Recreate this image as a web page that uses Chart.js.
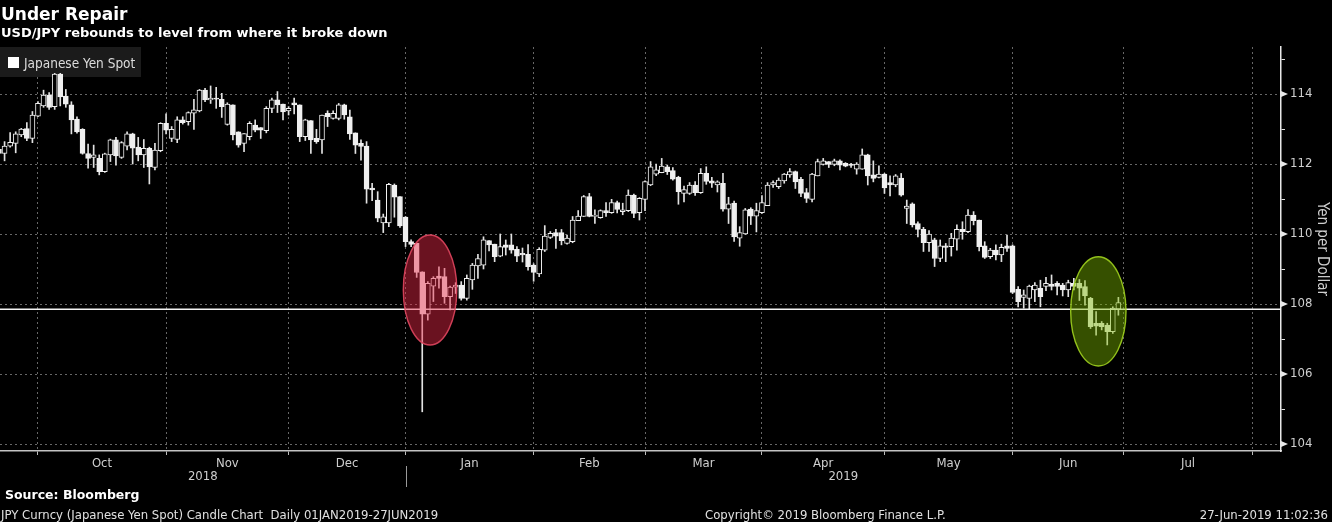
<!DOCTYPE html>
<html>
<head>
<meta charset="utf-8">
<script src="https://cdn.jsdelivr.net/npm/chart.js@4.4.1/dist/chart.umd.min.js"></script>
<style>
  html, body { margin:0; padding:0; background:#000; }
  #wrap { position:relative; width:1332px; height:522px; background:#000; overflow:hidden; }
  #c { position:absolute; left:0; top:0; }
  .txt { position:absolute; white-space:nowrap; line-height:1; }
  #title { left:1px; top:6px; font-weight:bold; font-size:17px; font-family:"DejaVu Sans", sans-serif; color:#fff; }
  #subtitle { left:1px; top:26px; font-weight:bold; font-size:13px; font-family:"DejaVu Sans", sans-serif; color:#fff; }
  #legendSq { position:absolute; left:8px; top:57px; width:11px; height:11px; background:#fff; }
  #legendTxt { left:24px; top:57px; font-size:13.5px; font-family:"DejaVu Sans Condensed","Liberation Sans Narrow","DejaVu Sans",sans-serif; color:#dcdcdc; }
  #source { left:5px; top:489px; font-weight:bold; font-size:12.5px; font-family:"DejaVu Sans", sans-serif; color:#fff; }
  .foot { top:508px; font-size:13px; font-family:"DejaVu Sans Condensed","Liberation Sans Narrow","DejaVu Sans",sans-serif; color:#e0e0e0; }
  #desc { left:1px; }
  #copy { left:705px; }
  #stamp { right:4px; }
</style>
</head>
<body>
<div id="wrap">
  <canvas id="c" width="1332" height="522"></canvas>
  <div class="txt" id="title">Under Repair</div>
  <div class="txt" id="subtitle">USD/JPY rebounds to level from where it broke down</div>
  <div id="legendSq"></div>
  <div class="txt" id="legendTxt">Japanese Yen Spot</div>
  <div class="txt" id="source">Source: Bloomberg</div>
  <div class="txt foot" id="desc">JPY Curncy (Japanese Yen Spot) Candle Chart&nbsp; Daily 01JAN2019-27JUN2019</div>
  <div class="txt foot" id="copy">Copyright© 2019 Bloomberg Finance L.P.</div>
  <div class="txt foot" id="stamp">27-Jun-2019 11:02:36</div>
</div>
<script>
// ---- data (one candle per weekday slot; slot 0 = first trading slot of October 2018) ----
const firstSlot = -7;
const openV = [
112.42,112.30,112.51,112.59,112.83,113.01,112.73,113.37,113.66,113.97,
113.64,114.57,113.94,113.69,113.28,112.99,112.30,112.19,112.16,111.78,
112.26,112.69,112.19,112.51,112.86,112.48,112.26,112.45,111.90,112.38,
113.16,112.73,112.70,113.26,113.21,113.45,113.52,114.11,113.83,113.88,
113.85,113.13,113.69,112.92,112.59,112.78,113.11,113.04,112.95,113.59,
113.83,113.71,113.52,113.75,113.69,112.78,113.24,112.73,112.69,113.45,
113.30,113.30,113.69,113.35,112.89,112.59,112.51,111.31,110.97,110.32,
110.32,111.40,111.07,110.48,109.78,109.73,108.92,107.71,108.51,108.80,
108.78,108.21,108.48,108.54,108.16,108.69,109.09,109.11,109.81,109.71,
109.37,109.69,109.69,109.56,109.45,109.42,109.11,108.86,109.54,109.90,
110.04,110.04,109.73,109.78,110.38,110.50,111.07,110.50,110.47,110.67,
110.61,110.90,110.64,110.67,111.11,110.61,110.99,111.40,111.71,111.75,
111.92,111.81,111.62,111.16,111.16,111.40,111.18,111.73,111.52,111.40,
111.45,110.71,110.88,109.88,110.00,110.71,110.51,110.61,110.81,111.40,
111.35,111.52,111.69,111.78,111.56,111.18,110.99,111.66,111.99,112.07,
111.99,112.09,112.02,112.00,111.85,111.85,112.26,111.69,111.62,111.71,
111.47,111.40,111.60,110.73,110.86,110.30,110.13,109.75,109.83,109.30,
109.66,109.64,109.85,110.13,110.07,110.54,110.40,109.66,109.35,109.54,
109.40,109.66,109.66,108.42,108.19,108.16,108.40,108.45,108.50,108.57,
108.59,108.54,108.40,108.59,108.59,108.50,108.16,107.45,107.45,107.40,
107.21,107.85];
const highV = [
112.50,112.64,112.90,112.92,113.02,113.18,113.50,113.78,114.11,114.04,
114.59,114.59,114.13,113.78,113.35,113.01,112.57,112.54,112.26,112.31,
112.71,112.76,112.64,112.92,112.88,112.76,112.70,112.48,112.59,113.18,
113.43,113.07,113.35,113.35,113.49,113.85,114.13,114.16,114.23,114.19,
114.02,113.75,113.69,112.92,112.87,113.21,113.26,113.04,113.64,113.88,
114.07,113.71,113.64,113.88,113.69,113.28,113.24,112.99,113.40,113.52,
113.52,113.73,113.71,113.54,112.89,112.69,112.64,111.45,111.21,110.57,
111.45,111.43,111.07,110.50,109.83,109.73,108.92,108.64,108.78,109.06,
109.02,108.51,108.61,108.64,108.83,109.16,109.42,109.92,109.81,109.71,
110.00,109.83,110.00,109.64,109.60,109.70,109.15,109.61,110.24,110.07,
110.13,110.13,109.97,110.50,110.67,111.10,111.16,110.69,110.69,110.90,
110.99,110.94,110.88,111.26,111.14,111.04,111.52,112.07,112.00,112.16,
111.97,111.90,111.65,111.37,111.47,111.50,111.87,111.92,111.62,111.52,
111.73,111.05,110.94,110.21,110.73,110.75,110.88,111.10,111.47,111.52,
111.60,111.73,111.87,111.80,111.62,111.30,111.73,112.14,112.16,112.07,
112.14,112.12,112.04,112.02,112.04,112.43,112.28,112.09,111.95,111.73,
111.66,111.70,111.73,110.97,110.89,110.35,110.19,110.10,109.88,109.83,
109.73,110.02,110.26,110.35,110.70,110.64,110.40,109.78,109.59,109.69,
109.71,109.97,109.69,108.50,108.40,108.54,108.61,108.68,108.76,108.83,
108.64,108.59,108.68,108.73,108.70,108.67,108.19,107.78,107.50,107.45,
107.92,108.19];
const lowV = [
112.25,112.09,112.48,112.32,112.78,112.67,112.61,113.35,113.62,113.56,
113.56,113.66,113.62,112.86,112.88,112.28,111.88,111.90,111.69,111.76,
112.07,111.97,112.16,112.40,112.00,112.09,111.90,111.43,111.83,112.35,
112.86,112.64,112.61,113.14,113.11,112.99,113.49,113.78,113.73,113.59,
113.33,113.11,112.69,112.48,112.35,112.69,112.92,112.73,112.89,113.47,
113.47,113.26,113.40,113.43,112.64,112.67,112.30,112.59,112.30,113.07,
113.28,113.26,113.28,112.70,112.30,112.11,110.88,110.95,110.35,110.04,
110.21,110.48,110.19,109.64,109.64,108.76,104.92,107.54,108.07,108.45,
108.02,107.83,108.30,108.11,108.11,108.42,108.73,109.00,109.52,109.21,
109.35,109.40,109.45,109.21,109.20,108.97,108.65,108.78,109.50,109.87,
109.59,109.69,109.71,109.75,110.38,110.50,110.49,110.30,110.45,110.50,
110.59,110.60,110.55,110.64,110.47,110.40,110.67,111.38,111.67,111.75,
111.70,111.54,110.85,110.92,111.13,111.10,111.16,111.42,111.33,111.20,
110.65,110.30,109.79,109.65,109.99,110.27,110.06,110.59,110.81,111.33,
111.30,111.45,111.62,111.30,111.07,110.90,110.92,111.66,111.97,111.90,
111.95,111.83,111.92,111.90,111.71,111.85,111.40,111.49,111.60,111.16,
111.09,111.35,111.08,110.30,110.20,109.92,109.50,109.50,109.07,109.21,
109.21,109.37,109.54,109.85,110.04,110.26,109.52,109.30,109.30,109.26,
109.21,109.50,108.30,107.92,107.88,107.85,108.07,107.92,108.38,108.40,
108.26,108.23,108.21,108.40,108.10,107.97,107.30,107.11,107.26,106.83,
107.16,107.68];
const closeV = [
112.30,112.51,112.62,112.86,113.00,112.73,113.40,113.73,113.97,113.62,
114.57,113.92,113.71,113.26,112.92,112.30,112.16,112.26,111.78,112.29,
112.69,112.23,112.61,112.86,112.45,112.26,112.45,111.92,112.40,113.16,
112.97,112.99,113.26,113.18,113.47,113.55,114.11,113.83,113.88,113.85,
113.64,113.71,112.83,112.54,112.87,113.16,112.97,112.97,113.59,113.83,
113.69,113.49,113.59,113.69,112.78,113.26,112.69,112.64,113.40,113.35,
113.45,113.69,113.40,112.86,112.54,112.50,111.28,111.26,110.45,110.49,
111.42,111.05,110.23,109.78,109.70,108.90,107.71,108.59,108.73,108.73,
108.21,108.48,108.54,108.16,108.73,109.11,109.30,109.83,109.69,109.35,
109.64,109.62,109.54,109.37,109.40,109.07,108.90,109.56,109.94,110.02,
109.94,109.81,109.88,110.40,110.51,111.07,110.50,110.54,110.67,110.61,
110.90,110.70,110.69,111.11,110.59,111.02,111.50,111.92,111.83,111.94,
111.78,111.57,111.21,111.27,111.40,111.18,111.73,111.50,111.45,111.49,
110.71,110.86,109.92,110.04,110.69,110.51,110.67,110.90,111.40,111.47,
111.54,111.71,111.78,111.49,111.16,111.02,111.71,112.07,112.09,111.99,
112.09,111.97,111.94,111.96,112.00,112.26,111.66,111.59,111.71,111.32,
111.40,111.66,111.11,110.80,110.26,110.13,109.75,110.00,109.30,109.66,
109.62,109.88,110.13,110.07,110.54,110.38,109.64,109.33,109.54,109.40,
109.62,109.59,108.33,108.07,108.26,108.51,108.54,108.21,108.59,108.50,
108.50,108.40,108.61,108.50,108.45,108.23,107.35,107.37,107.35,107.21,
107.88,108.04];

// month boundaries (slot of first trading day) and tick labels
const monthStarts = [0, 23, 45, 66, 89, 109, 130, 152, 175, 195, 218];
const monthLabels = ['Oct','Nov','Dec','Jan','Feb','Mar','Apr','May','Jun','Jul'];
const yearLabels = ['2018', '2019'];
const yearBreakSlot = 66;
const yTickValues = [104,105,106,107,108,109,110,111,112,113,114,115];
const refLevel = 107.85;

// highlighted zones (centre slot / level, half-width in slots, half-height in yen)
const zoneSlots = [70.4, 190.4];
const zoneLevels = [108.4, 107.79];
const zoneHalfSlots = [4.8, 4.97];
const zoneHalfLevels = [1.57, 1.56];

// ---- visual setup ----
const X_MIN = -6.82, X_MAX = 223.2, Y_MIN = 103.8, Y_MAX = 115.343;
const AXIS_FONT = '"DejaVu Sans Condensed","Liberation Sans Narrow","DejaVu Sans",sans-serif';
const GRID = '#676767';
const TXT = '#cfcfcf';
const zoneFill = ['rgba(235,40,70,0.45)', 'rgba(125,185,0,0.43)'];
const zoneStroke = ['rgba(225,70,95,0.9)', 'rgba(160,210,30,0.9)'];

const slots = openV.map((_, k) => firstSlot + k);
const bodyData = slots.map((s, k) => ({ x: s, y: [openV[k], closeV[k]] }));
const wickData = slots.map((s, k) => ({ x: s, y: [lowV[k], highV[k]] }));

const startSet = new Set(monthStarts);
const labelAt = new Map();
monthLabels.forEach((m, k) => labelAt.set((monthStarts[k] + monthStarts[k + 1]) / 2, m));
const xTickVals = [...monthStarts, ...labelAt.keys()].sort((a, b) => a - b);

const legendBoxPlugin = {
  id: 'legendBox',
  beforeDatasetsDraw(chart) {
    const { ctx, chartArea: a } = chart;
    ctx.save();
    ctx.fillStyle = '#1b1b1b';
    ctx.fillRect(a.left, a.top, 141, 30);
    ctx.restore();
  }
};

const overlayPlugin = {
  id: 'overlay',
  afterDatasetsDraw(chart) {
    const { ctx, chartArea: a, scales: { x, y } } = chart;
    ctx.save();
    ctx.beginPath(); ctx.rect(a.left, a.top, a.right - a.left, a.bottom - a.top); ctx.clip();
    const yy = y.getPixelForValue(refLevel);
    ctx.strokeStyle = '#f4f4f4'; ctx.lineWidth = 1.6;
    ctx.beginPath(); ctx.moveTo(a.left, yy); ctx.lineTo(a.right, yy); ctx.stroke();
    zoneSlots.forEach((s, k) => {
      const cx = x.getPixelForValue(s), cy = y.getPixelForValue(zoneLevels[k]);
      const rx = Math.abs(x.getPixelForValue(s + zoneHalfSlots[k]) - cx);
      const ry = Math.abs(y.getPixelForValue(zoneLevels[k] + zoneHalfLevels[k]) - cy);
      ctx.beginPath(); ctx.ellipse(cx, cy, rx, ry, 0, 0, Math.PI * 2);
      ctx.fillStyle = zoneFill[k]; ctx.fill();
      ctx.strokeStyle = zoneStroke[k]; ctx.lineWidth = 1.4; ctx.stroke();
    });
    ctx.restore();
  },
  afterDraw(chart) {
    const { ctx, chartArea: a, scales: { x, y } } = chart;
    ctx.save();
    // arrow heads on the major value ticks
    ctx.fillStyle = '#e8e8e8';
    yTickValues.filter(v => v % 2 === 0).forEach(v => {
      const py = y.getPixelForValue(v);
      ctx.beginPath(); ctx.moveTo(a.right, py - 3); ctx.lineTo(a.right + 7, py); ctx.lineTo(a.right, py + 3); ctx.closePath(); ctx.fill();
    });
    // year labels and separator
    const bx = x.getPixelForValue(yearBreakSlot);
    ctx.fillStyle = TXT;
    ctx.font = '13px ' + AXIS_FONT;
    ctx.textAlign = 'center'; ctx.textBaseline = 'middle';
    ctx.fillText(yearLabels[0], (a.left + bx) / 2, 477);
    ctx.fillText(yearLabels[1], (bx + a.right) / 2, 477);
    ctx.strokeStyle = '#9a9a9a'; ctx.lineWidth = 1;
    ctx.beginPath(); ctx.moveTo(Math.round(bx) + 0.5, 466); ctx.lineTo(Math.round(bx) + 0.5, 487); ctx.stroke();
    ctx.restore();
  }
};

new Chart(document.getElementById('c'), {
  type: 'bar',
  data: {
    datasets: [
      { label: 'body', data: bodyData, order: 0, grouped: false, barThickness: 5,
        backgroundColor: c => (closeV[c.dataIndex] >= openV[c.dataIndex] ? '#000' : '#f0f0f0'),
        borderColor: '#f0f0f0', borderWidth: 1, borderSkipped: false },
      { label: 'wick', data: wickData, order: 1, grouped: false, barThickness: 1,
        backgroundColor: '#e2e2e2', borderWidth: 0 }
    ]
  },
  options: {
    responsive: false, animation: false, events: [],
    layout: { padding: { top: 47, left: 0, right: 0, bottom: 0 } },
    plugins: { legend: { display: false }, tooltip: { enabled: false } },
    scales: {
      x: {
        type: 'linear', min: X_MIN, max: X_MAX, offset: false,
        afterBuildTicks: sc => { sc.ticks = xTickVals.map(v => ({ value: v })); },
        afterFit: sc => { sc.height = 71; },
        ticks: { autoSkip: false, maxRotation: 0, padding: 1, color: TXT,
                 font: { family: AXIS_FONT, size: 13 },
                 callback: v => labelAt.get(v) || '' },
        grid: { offset: false, lineWidth: 1, tickLength: 4,
                color: c => (c.tick && startSet.has(c.tick.value) ? GRID : 'rgba(0,0,0,0)'),
                tickColor: c => (c.tick && startSet.has(c.tick.value) ? '#bdbdbd' : 'rgba(0,0,0,0)') },
        border: { color: '#c4c4c4', width: 1.5, dash: [2, 3] }
      },
      y: {
        position: 'right', min: Y_MIN, max: Y_MAX,
        afterBuildTicks: sc => { sc.ticks = yTickValues.map(v => ({ value: v })); },
        afterFit: sc => { sc.width = 51; },
        ticks: { autoSkip: false, padding: 5, color: TXT, font: { family: AXIS_FONT, size: 13 },
                 callback: v => (v % 2 === 0 ? String(v) : '') },
        grid: { lineWidth: 1, tickLength: 4, tickColor: '#e0e0e0',
                color: c => (c.tick && c.tick.value % 2 === 0 ? GRID : 'rgba(0,0,0,0)') },
        border: { color: '#e8e8e8', width: 1.5, dash: [2, 3] },
        title: { display: true, text: 'Yen per Dollar', color: TXT,
                 font: { family: AXIS_FONT, size: 15 }, padding: { top: 1, bottom: 0 } }
      }
    }
  },
  plugins: [legendBoxPlugin, overlayPlugin]
});
</script>
</body>
</html>
